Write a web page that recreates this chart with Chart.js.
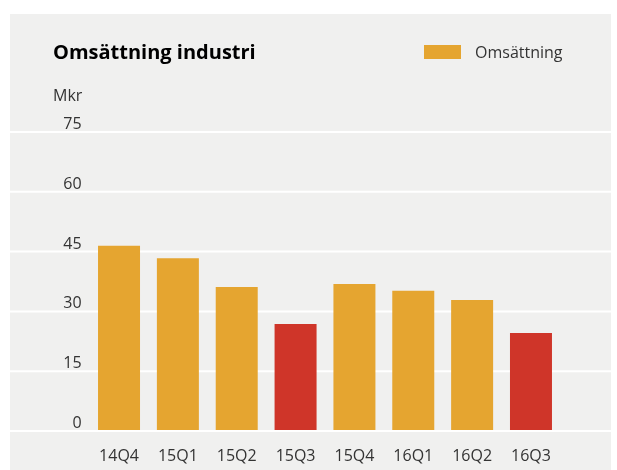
<!DOCTYPE html>
<html>
<head>
<meta charset="utf-8">
<script src="https://cdn.jsdelivr.net/npm/chart.js@4"></script>
<style>
  body { margin: 0; background: #fff; font-family: 'Open Sans', sans-serif; }
  #panel { position: absolute; left: 10px; top: 14px; width: 601px; height: 456px; background: #f0f0ef; }
  #title { position: absolute; left: 43px; top: 26px; line-height: 24px; font-size: 20px; font-weight: bold; color: #000; }
  #unit { position: absolute; left: 43px; top: 69px; line-height: 24px; font-size: 16px; color: #333; }
  #legend { position: absolute; left: 414px; top: 26px; line-height: 24px; font-size: 16px; color: #333; display: flex; align-items: center; }
  #legend span.box { display: inline-block; width: 37px; height: 14px; margin-right: 14px; }
  canvas { position: absolute; left: 0; top: 0; }
</style>
</head>
<body>
<div id="panel">
  <canvas id="myChart" width="601" height="456"></canvas>
  <div id="title">Omsättning industri</div>
  <div id="unit">Mkr</div>
  <div id="legend"></div>
</div>
<script>
const labels = ['14Q4', '15Q1', '15Q2', '15Q3', '15Q4', '16Q1', '16Q2', '16Q3'];
const values = [46.2, 43.1, 35.9, 26.6, 36.6, 34.9, 32.6, 24.3];
const highlighted = ['15Q3', '16Q3'];
const yTicks = [0, 15, 30, 45, 60, 75];

const orange = '#e5a530';
const red = '#cf3529';

// white grid lines run across the whole panel, not just the plot area
const fullGrid = {
  id: 'fullGrid',
  beforeDatasetsDraw(chart) {
    const { ctx, scales: { y } } = chart;
    ctx.save();
    ctx.strokeStyle = '#ffffff';
    ctx.lineWidth = 2;
    yTicks.forEach((v) => {
      const py = y.getPixelForValue(v) + 1;
      ctx.beginPath();
      ctx.moveTo(0, py);
      ctx.lineTo(chart.width, py);
      ctx.stroke();
    });
    ctx.restore();
  },
};

const ctx = document.getElementById('myChart');
const myChart = new Chart(ctx, {
  type: 'bar',
  data: {
    labels,
    datasets: [
      {
        label: 'Omsättning',
        data: values,
        backgroundColor: labels.map((l) => (highlighted.includes(l) ? red : orange)),
        borderWidth: 0,
        categoryPercentage: 1,
        barPercentage: 0.7136,
      },
    ],
  },
  options: {
    responsive: false,
    devicePixelRatio: 1,
    animation: false,
    layout: { padding: { top: 117, right: 50.6, bottom: 0, left: 0 } },
    plugins: {
      legend: { display: false },
      tooltip: { enabled: false },
    },
    scales: {
      x: {
        grid: { display: false, drawTicks: false },
        border: { display: false },
        ticks: { font: { family: 'Open Sans', size: 16 }, color: '#333', padding: 17 },
        afterFit: (axis) => { axis.height = 40; },
      },
      y: {
        min: 0,
        max: 75,
        grid: { display: false, drawTicks: false },
        border: { display: false },
        ticks: {
          stepSize: 15,
          font: { family: 'Open Sans', size: 16 },
          color: '#333',
          padding: 8,
          labelOffset: -6.5,
        },
        afterFit: (axis) => { axis.width = 79.6; },
      },
    },
  },
  plugins: [fullGrid],
});

// legend built from the dataset
const ds = myChart.data.datasets[0];
document.getElementById('legend').innerHTML =
  '<span class="box" style="background:' + orange + '"></span>' + ds.label;
</script>
</body>
</html>
